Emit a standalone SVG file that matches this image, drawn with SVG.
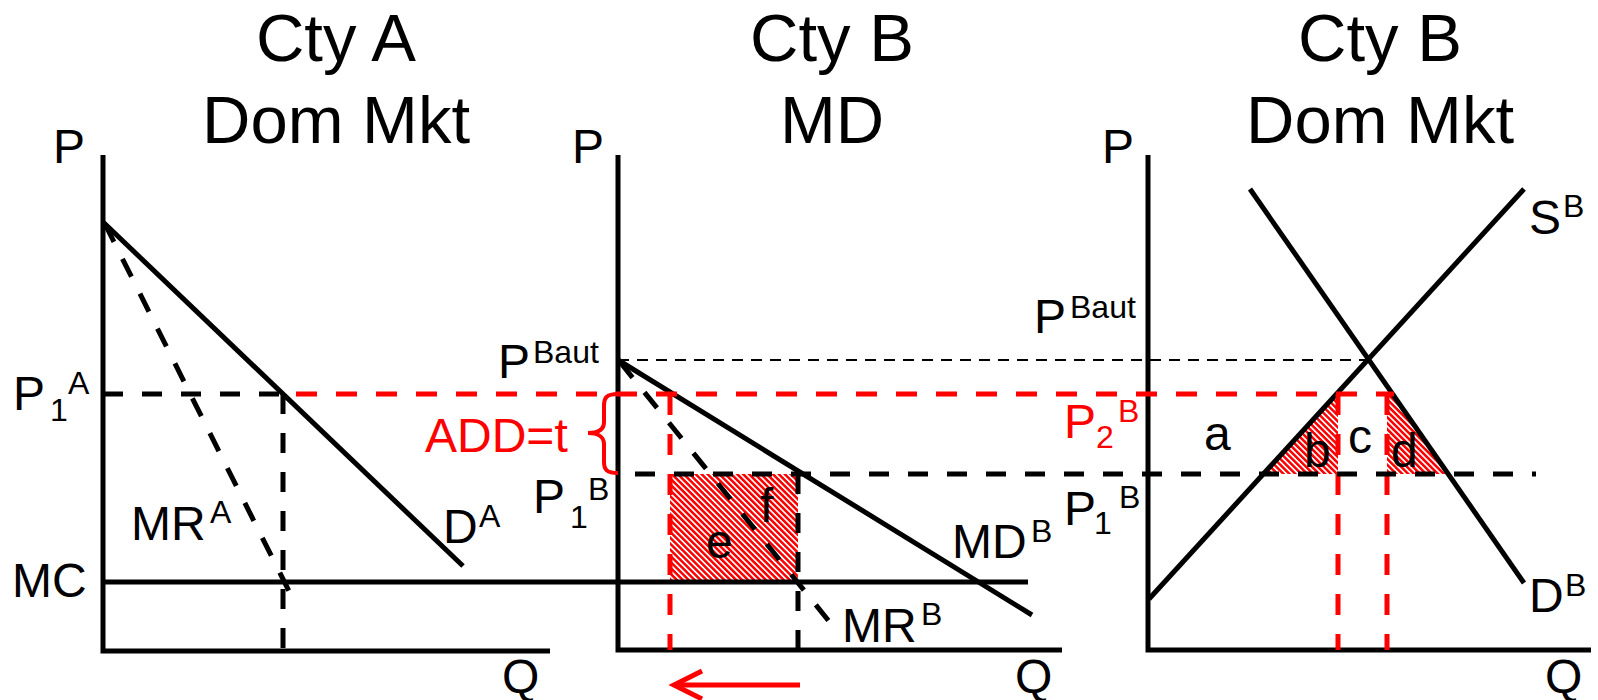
<svg xmlns="http://www.w3.org/2000/svg" width="1598" height="700" viewBox="0 0 1598 700">
<defs>
<pattern id="hatch" patternUnits="userSpaceOnUse" width="4.2" height="4.2" patternTransform="rotate(-45)">
<rect width="4.2" height="4.2" fill="#fff"/>
<rect width="2.5" height="4.2" fill="#f00"/>
</pattern>
</defs>
<style>
text{font-family:"Liberation Sans",Arial,sans-serif;fill:#000}
.t{font-size:67px;text-anchor:middle}
.m{font-size:48px}
.s{font-size:32px}
.red{fill:#f00}
.ln{stroke:#000;stroke-width:5;fill:none}
.dk{stroke:#000;stroke-width:5;stroke-dasharray:20 19;fill:none}
.dr{stroke:#f00;stroke-width:5;stroke-dasharray:21 19;fill:none}
.thin{stroke:#000;stroke-width:2.2;stroke-dasharray:11 8;fill:none}
.hat{fill:url(#hatch);stroke:none}
</style>
<rect width="1598" height="700" fill="#fff"/>

<g id="titles">
<text class="t" x="336" y="61">Cty A</text>
<text class="t" x="336" y="143">Dom Mkt</text>
<text class="t" x="832" y="61">Cty B</text>
<text class="t" x="832" y="143">MD</text>
<text class="t" x="1380" y="61">Cty B</text>
<text class="t" x="1380" y="143">Dom Mkt</text>
</g>

<g id="hatched-areas">
<rect class="hat" x="670" y="474" width="128" height="108"/>
<polygon class="hat" points="1263,474 1336,394 1338,394 1338,474"/>
<polygon class="hat" points="1387,394 1393,394 1448,474 1387,474"/>
</g>

<g id="panel-a">
<path class="ln" d="M103,155 V651 H550"/>
<line class="ln" x1="103" y1="222" x2="463" y2="566"/>
<line class="dk" x1="105" y1="224" x2="293" y2="599"/>
<line class="dk" x1="103" y1="394" x2="283" y2="394"/>
<line class="dk" x1="283" y1="394" x2="283" y2="651"/>
<text class="m" x="53" y="163">P</text>
<text class="m" x="13" y="410">P</text><text class="s" x="50" y="421">1</text><text class="s" x="68" y="394">A</text>
<text class="m" x="12" y="597">MC</text>
<text class="m" x="131" y="540">MR</text><text class="s" x="210" y="523">A</text>
<text class="m" x="443" y="543">D</text><text class="s" x="479" y="527">A</text>
<text class="m" x="502" y="693">Q</text>
</g>

<g id="panel-b">
<path class="ln" d="M618,155 V650 H1062"/>
<line class="ln" x1="103" y1="582" x2="1028" y2="582"/>
<line class="ln" x1="618" y1="360" x2="1032" y2="615"/>
<line class="dk" x1="620" y1="362" x2="832" y2="625"/>
<line class="dk" x1="798" y1="474" x2="798" y2="650"/>
<line class="dr" x1="670" y1="394" x2="670" y2="650"/>
<path d="M618,394 C606,394 604,398 604,406 L604,422 C604,430 598,433 588,433 C598,433 604,437 604,444 L604,462 C604,470 607,473 618,473" fill="none" stroke="#f00" stroke-width="4"/>
<text class="m red" x="425" y="452">ADD=t</text>
<text class="m" x="572" y="163">P</text>
<text class="m" x="498" y="378">P</text><text class="s" x="533" y="363">Baut</text>
<text class="m" x="533" y="513">P</text><text class="s" x="570" y="528">1</text><text class="s" x="588" y="500">B</text>
<text class="m" x="706" y="558">e</text>
<text class="m" x="760" y="522">f</text>
<text class="m" x="952" y="558">MD</text><text class="s" x="1031" y="542">B</text>
<text class="m" x="842" y="642">MR</text><text class="s" x="921" y="625">B</text>
<text class="m" x="1015" y="693">Q</text>
<line x1="800" y1="685" x2="676" y2="685" stroke="#f00" stroke-width="5"/>
<polyline points="702,671 674,685 702,699" fill="none" stroke="#f00" stroke-width="5"/>
</g>

<g id="panel-c">
<path class="ln" d="M1148,155 V650 H1591"/>
<line class="ln" x1="1149" y1="599" x2="1524" y2="189"/>
<line class="ln" x1="1250" y1="189" x2="1524" y2="583"/>
<line class="dr" x1="1338" y1="394" x2="1338" y2="650"/>
<line class="dr" x1="1387" y1="394" x2="1387" y2="650"/>
<text class="m" x="1102" y="163">P</text>
<text class="m" x="1034" y="333">P</text><text class="s" x="1070" y="318">Baut</text>
<text class="m red" x="1064" y="438">P</text><text class="s red" x="1096" y="448">2</text><text class="s red" x="1118" y="422">B</text>
<text class="m" x="1064" y="525">P</text><text class="s" x="1094" y="534">1</text><text class="s" x="1119" y="508">B</text>
<text class="m" x="1204" y="450">a</text>
<text class="m" x="1304" y="467">b</text>
<text class="m" x="1348" y="453">c</text>
<text class="m" x="1391" y="467">d</text>
<text class="m" x="1529" y="234">S</text><text class="s" x="1563" y="217">B</text>
<text class="m" x="1529" y="612">D</text><text class="s" x="1565" y="596">B</text>
<text class="m" x="1545" y="693">Q</text>
</g>

<g id="connectors">
<line class="thin" x1="618" y1="360" x2="1368" y2="360"/>
<line class="dr" x1="296" y1="394" x2="1394" y2="394"/>
<line class="dk" x1="635" y1="474" x2="1536" y2="474"/>
</g>
</svg>
